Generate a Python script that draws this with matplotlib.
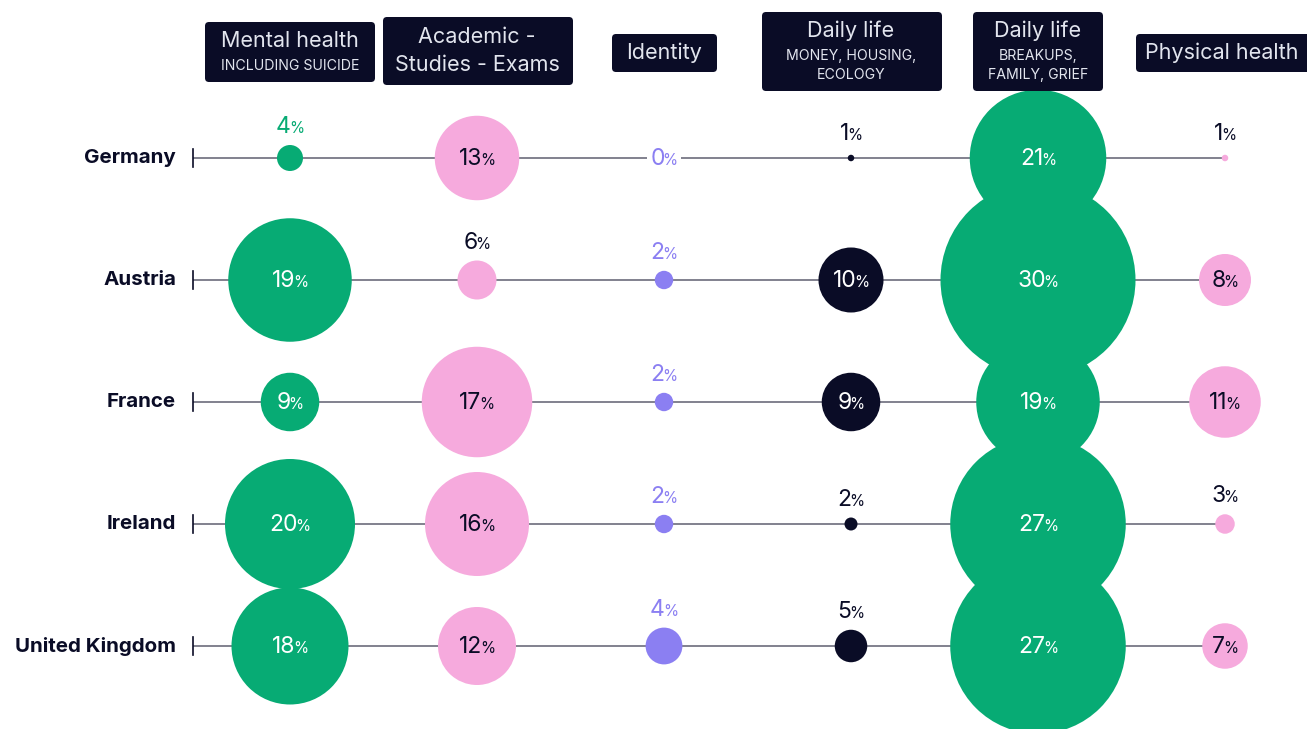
import matplotlib
matplotlib.use("Agg")
import matplotlib.pyplot as plt
from matplotlib.patches import Circle, FancyBboxPatch
from matplotlib.offsetbox import TextArea, HPacker, AnnotationBbox

plt.rcParams['font.family'] = ['Inter', 'DejaVu Sans']

# ---------------- data ----------------
countries = ["Germany", "Austria", "France", "Ireland", "United Kingdom"]
mental_health = [4, 19, 9, 20, 18]
academic = [13, 6, 17, 16, 12]
identity = [0, 2, 2, 2, 4]
daily_money = [1, 10, 9, 2, 5]
daily_family = [21, 30, 19, 27, 27]
physical_health = [1, 8, 11, 3, 7]
series = [mental_health, academic, identity, daily_money, daily_family, physical_health]

header_main = [["Mental health"], ["Academic -", "Studies - Exams"], ["Identity"],
               ["Daily life"], ["Daily life"], ["Physical health"]]
header_sub = [["INCLUDING SUICIDE"], [], [], ["MONEY, HOUSING,", "ECOLOGY"],
              ["BREAKUPS,", "FAMILY, GRIEF"], []]

# ---------------- style / layout ----------------
NAVY = "#0a0c26"
GREEN = "#07ab74"
PINK = "#f6aadd"
PURPLE = "#8b7ff2"
LINE = "#6c6c7c"
col_colors = [GREEN, PINK, PURPLE, NAVY, GREEN, PINK]
col_scale = [3.25, 3.25, 4.6, 3.25, 3.25, 3.25]
col_x = [290, 477, 664, 851, 1038, 1225]
row_y = [158, 280, 402, 524, 646]
# header boxes: (left, top, right, bottom), main line ys, sub line ys
header_box = [(205, 22, 375, 82), (383, 17, 573, 85), (612, 34, 717, 72),
              (762, 12, 942, 91), (973, 12, 1103, 91), (1136, 34, 1320, 72)]
header_main_y = [[40], [36, 64], [52], [30], [30], [52]]
header_sub_y = [[65], [], [], [55, 74], [55, 74], []]

W, H = 1307, 729
fig = plt.figure(figsize=(W / 100, H / 100), dpi=100)
ax = fig.add_axes([0, 0, 1, 1])
ax.set_xlim(0, W)
ax.set_ylim(H, 0)
ax.set_aspect('equal')
ax.axis('off')

# headers
for j in range(6):
    l, t, r, b = header_box[j]
    ax.add_patch(FancyBboxPatch((l + 4, t + 4), r - l - 8, b - t - 8,
                                boxstyle="round,pad=4", fc=NAVY, ec="none", zorder=5))
    cx = (l + min(r, W)) / 2 if j == 5 else col_x[j]
    for txt, yy in zip(header_main[j], header_main_y[j]):
        ax.text(cx, yy + 1, txt, ha='center', va='center', color='#e2e5ee',
                fontsize=15.5, fontweight='normal', zorder=6)
    for txt, yy in zip(header_sub[j], header_sub_y[j]):
        ax.text(cx, yy + 0.5, txt, ha='center', va='center', color='#e2e5ee',
                fontsize=10.2, fontweight='normal', zorder=6)


def pct_label(x, y, value, color, bg=False):
    num = TextArea(str(value), textprops=dict(fontsize=16.5, color=color, fontweight='normal'))
    pc = TextArea("%", textprops=dict(fontsize=11, color=color, fontweight='normal'))
    box = HPacker(children=[num, pc], align="baseline", pad=0, sep=-1.5)
    ab = AnnotationBbox(box, (x, y), xycoords='data', box_alignment=(0.5, 0.5),
                        frameon=bg, pad=0.25, zorder=8,
                        bboxprops=dict(fc='white', ec='none'))
    ax.add_artist(ab)


for i, c in enumerate(countries):
    y = row_y[i]
    ax.plot([193, col_x[-1]], [y, y], color=LINE, lw=1.2, zorder=1, solid_capstyle='butt')
    ax.plot([193, 193], [y - 9, y + 9], color=NAVY, lw=1.2, zorder=1)
    ax.text(176, y, c, ha='right', va='center', fontsize=14.8, fontweight='bold', color=NAVY)
    for j in range(6):
        v = series[j][i]
        x = col_x[j]
        col = col_colors[j]
        rad = col_scale[j] * v
        if v > 0:
            ax.add_patch(Circle((x, y), rad, fc=col, ec='none', zorder=2 + i * 0.01))
        if v == 0:
            pct_label(x, y + 1, v, col, bg=True)
        elif v >= 7:
            tc = NAVY if col == PINK else 'white'
            pct_label(x, y + 1, v, tc)
        else:
            tc = col if col in (GREEN, PURPLE) else NAVY
            pct_label(x, y - max(rad, 6) - 18, v, tc)

fig.savefig("out.png", dpi=100)
